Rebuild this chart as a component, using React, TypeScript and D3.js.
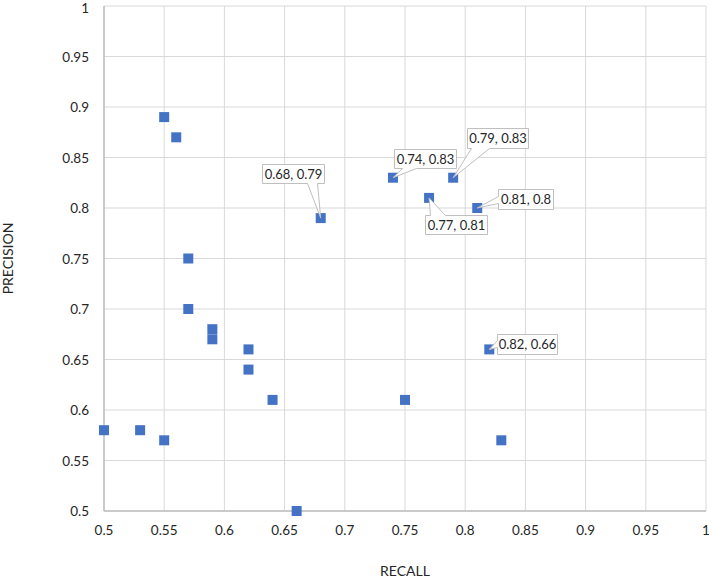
import React from "react";
import * as d3 from "d3";

const recall = [0.5, 0.53, 0.55, 0.55, 0.56, 0.57, 0.57, 0.59, 0.59, 0.62, 0.62, 0.64, 0.66, 0.68, 0.74, 0.75, 0.77, 0.79, 0.81, 0.82, 0.83];
const precision = [0.58, 0.58, 0.57, 0.89, 0.87, 0.75, 0.7, 0.68, 0.67, 0.66, 0.64, 0.61, 0.5, 0.79, 0.83, 0.61, 0.81, 0.83, 0.8, 0.66, 0.57];
const xTicks = [0.5, 0.55, 0.6, 0.65, 0.7, 0.75, 0.8, 0.85, 0.9, 0.95, 1];
const yTicks = [0.5, 0.55, 0.6, 0.65, 0.7, 0.75, 0.8, 0.85, 0.9, 0.95, 1];
const labeledIdx = [13, 14, 17, 16, 18, 19];

// label layout: box left/top offset from point, size, pointer side and base
const labelLayout = [
  { dx: -59, dy: -54, w: 62, h: 19, side: "bottom", b1: 45, b2: 55 },
  { dx: 1, dy: -29, w: 62, h: 19, side: "bottom", b1: 8, b2: 22 },
  { dx: 14, dy: -50, w: 61, h: 20, side: "bottom", b1: 4, b2: 22 },
  { dx: -4, dy: 17, w: 62, h: 19, side: "top", b1: 5, b2: 20 },
  { dx: 21, dy: -19, w: 55, h: 20, side: "left", b1: 7, b2: 14 },
  { dx: 8, dy: -15, w: 60, h: 20, side: "left", b1: 6, b2: 13 },
];

const W = 709, H = 578;
const M = { left: 104, right: 706, top: 6, bottom: 511 };
const FONT = "Lato, 'Open Sans', sans-serif";

function calloutPath(l: number, t: number, w: number, h: number, side: string, b1: number, b2: number, tx: number, ty: number) {
  const r = l + w, b = t + h;
  if (side === "bottom") {
    return `M${l},${t}L${r},${t}L${r},${b}L${l + b2},${b}L${tx},${ty}L${l + b1},${b}L${l},${b}Z`;
  }
  if (side === "top") {
    return `M${l},${t}L${l + b1},${t}L${tx},${ty}L${l + b2},${t}L${r},${t}L${r},${b}L${l},${b}Z`;
  }
  return `M${l},${t}L${r},${t}L${r},${b}L${l},${b}L${l},${t + b2}L${tx},${ty}L${l},${t + b1}Z`;
}

export default function App() {
  const x = d3.scaleLinear().domain([0.5, 1]).range([M.left, M.right]);
  const y = d3.scaleLinear().domain([0.5, 1]).range([M.bottom, M.top]);
  const ms = 10;
  return (
    <svg width={W} height={H} style={{ position: "absolute", left: 0, top: 0 }} fontFamily={FONT}>
      <rect width={W} height={H} fill="#fff" />
      {xTicks.map((t) => (
        <line key={"gx" + t} x1={x(t)} x2={x(t)} y1={y(1)} y2={y(0.5)} stroke="#d9d9d9" strokeWidth={1} />
      ))}
      {yTicks.map((t) => (
        <line key={"gy" + t} x1={x(0.5)} x2={x(1)} y1={y(t)} y2={y(t)} stroke="#d9d9d9" strokeWidth={1} />
      ))}
      <line x1={x(0.5)} x2={x(0.5)} y1={y(1)} y2={y(0.5)} stroke="#bfbfbf" strokeWidth={1.5} />
      <line x1={x(0.5)} x2={x(1)} y1={y(0.5)} y2={y(0.5)} stroke="#bfbfbf" strokeWidth={1.5} />
      {xTicks.map((t) => (
        <text key={"tx" + t} x={x(t)} y={535} textAnchor="middle" fontSize={13.5} fill="#262626">
          {d3.format("~g")(t)}
        </text>
      ))}
      {yTicks.map((t) => (
        <text key={"ty" + t} x={89} y={Math.max(y(t) + 5, 13)} textAnchor="end" fontSize={13.5} fill="#262626">
          {d3.format("~g")(t)}
        </text>
      ))}
      <text x={(M.left + M.right) / 2} y={576} textAnchor="middle" fontSize={14} fill="#262626">
        RECALL
      </text>
      <text transform={`translate(13,${(M.top + M.bottom) / 2}) rotate(-90)`} textAnchor="middle" fontSize={14} fill="#262626">
        PRECISION
      </text>
      {recall.map((r, i) => (
        <rect key={"p" + i} x={x(r) - ms / 2} y={y(precision[i]) - ms / 2} width={ms} height={ms} fill="#4472c4" />
      ))}
      {labeledIdx.map((idx, k) => {
        const L = labelLayout[k];
        const px = x(recall[idx]);
        const py = y(precision[idx]);
        const l = Math.round(px + L.dx) + 0.5;
        const t = Math.round(py + L.dy) + 0.5;
        return (
          <g key={"lab" + idx}>
            <path d={calloutPath(l, t, L.w, L.h, L.side, L.b1, L.b2, px, py)} fill="#fff" stroke="#bfbfbf" strokeWidth={1} />
            <text x={l + L.w / 2} y={t + L.h / 2 + 4.5} textAnchor="middle" fontSize={13} fill="#262626">
              {`${recall[idx]}, ${precision[idx]}`}
            </text>
          </g>
        );
      })}
    </svg>
  );
}
